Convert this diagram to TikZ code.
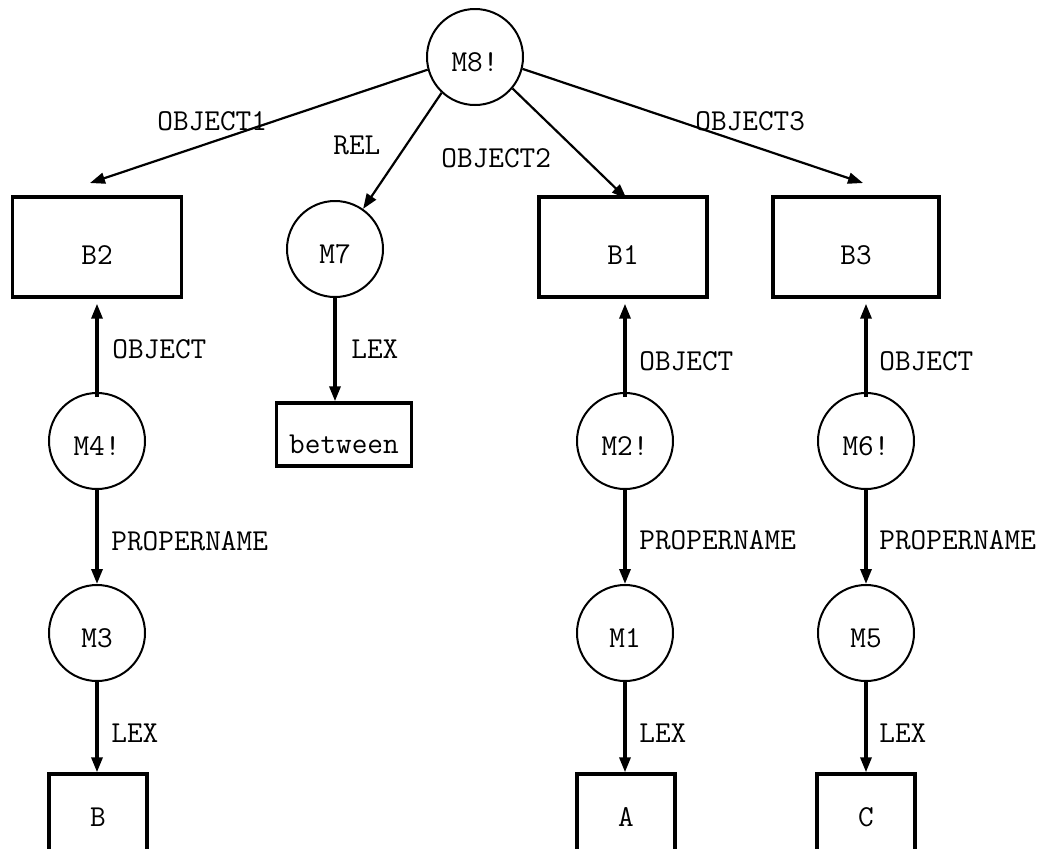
\documentclass[tikz,border=0pt]{standalone}
\usetikzlibrary{arrows.meta,calc}
\begin{document}
\begin{tikzpicture}[x=0.5pt,y=-0.5pt,
  every node/.style={font=\fontsize{15.2pt}{18pt}\selectfont\ttfamily},
  mnode/.style={draw, circle, line width=1pt, minimum size=48pt, inner sep=0pt,
                text height=14pt, text depth=0pt},
  bnode/.style={draw, rectangle, line width=1.7pt, inner sep=0pt, anchor=base},
  arc/.style={line width=1.1pt, -{Triangle[length=7.5pt,width=5.5pt]}},
  varc/.style={line width=1.6pt, -{Triangle[length=7.5pt,width=5.5pt]}},
  lbl/.style={anchor=base west, inner sep=0pt}]

% page frame (the lowest boxes run off the bottom edge)
\clip (0,0) rectangle (1057,848);

% molecular nodes
\node[mnode] (m8) at (475,57)  {M8!};
\node[mnode] (m7) at (335,249) {M7};
\node[mnode] (m4) at (97,441)  {M4!};
\node[mnode] (m3) at (97,633)  {M3};
\node[mnode] (m2) at (625,441) {M2!};
\node[mnode] (m1) at (625,633) {M1};
\node[mnode] (m6) at (866,441) {M6!};
\node[mnode] (m5) at (866,633) {M5};

% base nodes and lexemes
\node[bnode, minimum width=84.5pt, text height=33.5pt, text depth=16.5pt] (b2) at (97,264)  {B2};
\node[bnode, minimum width=84pt,   text height=33.5pt, text depth=16.5pt] (b1) at (623,264) {B1};
\node[bnode, minimum width=83pt,   text height=33.5pt, text depth=16.5pt] (b3) at (856,264) {B3};
\node[bnode, minimum width=67.5pt, text height=25pt,   text depth=6.5pt]  (between) at (344,453) {between};
\node[bnode, minimum width=49pt, text height=26pt, text depth=20pt] (lexb) at (98,826)  {B};
\node[bnode, minimum width=49pt, text height=26pt, text depth=20pt] (lexa) at (626,826) {A};
\node[bnode, minimum width=49pt, text height=26pt, text depth=20pt] (lexc) at (866,826) {C};

% loose ends of the OBJECT1 / OBJECT3 arcs
\coordinate (t1) at (90,183);
\coordinate (t3) at (863,183);

% arcs out of M8
\draw[arc] (m8.195) -- (t1);
\draw[arc] (m8.227) -- (m7.55);
\draw[arc, shorten >=-2.5pt] (m8.320) -- (b1.north);
\draw[arc] (m8.346) -- (t3);

% OBJECT arcs
\draw[varc, shorten >=2.5pt, shorten <=-2.5pt] (m4.north) -- (m4.north |- b2.south);
\draw[varc, shorten >=2.5pt, shorten <=-2.5pt] (m2.north) -- (m2.north |- b1.south);
\draw[varc, shorten >=2.5pt, shorten <=-2.5pt] (m6.north) -- (m6.north |- b3.south);

% LEX and PROPERNAME arcs
\draw[varc] (m7.south) -- (m7.south |- between.north);
\draw[varc] (m4.south) -- (m3.north);
\draw[varc] (m2.south) -- (m1.north);
\draw[varc] (m6.south) -- (m5.north);
\draw[varc] (m3.south) -- (m3.south |- lexb.north);
\draw[varc] (m1.south) -- (m1.south |- lexa.north);
\draw[varc] (m5.south) -- (m5.south |- lexc.north);

% arc labels
\node[lbl] (l1)   at (157,130) {OBJECT1};
\node[lbl] (lrel) at (333,154) {REL};
\node[lbl] (l2)   at (441,167) {OBJECT2};
\node[lbl] (l3)   at (695,130) {OBJECT3};
\node[lbl] (lo2)  at (112,358) {OBJECT};
\node[lbl] (lo1)  at (639,370) {OBJECT};
\node[lbl] (lo3)  at (879,370) {OBJECT};
\node[lbl] (lx7)  at (351,358) {LEX};
\node[lbl] (lp4)  at (111,550) {PROPERNAME};
\node[lbl] (lp2)  at (639,549) {PROPERNAME};
\node[lbl] (lp6)  at (879,549) {PROPERNAME};
\node[lbl] (lx3)  at (111,742) {LEX};
\node[lbl] (lx1)  at (639,742) {LEX};
\node[lbl] (lx5)  at (879,742) {LEX};
\end{tikzpicture}
\end{document}
